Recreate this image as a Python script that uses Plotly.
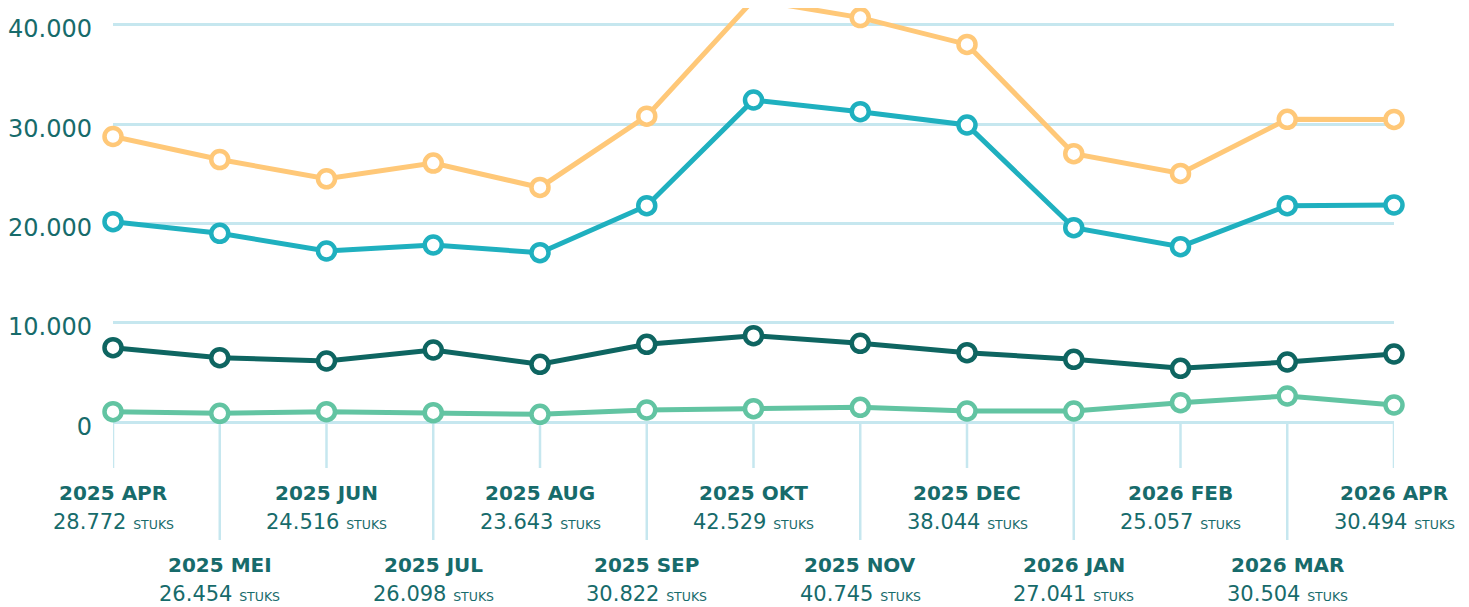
import plotly.graph_objects as go

# ---- data ----
months = ["2025 APR", "2025 MEI", "2025 JUN", "2025 JUL", "2025 AUG", "2025 SEP",
          "2025 OKT", "2025 NOV", "2025 DEC", "2026 JAN", "2026 FEB", "2026 MAR", "2026 APR"]
totaal = [28772, 26454, 24516, 26098, 23643, 30822, 42529, 40745, 38044, 27041, 25057, 30504, 30494]
serie_b = [20195, 19027, 17245, 17850, 17074, 21806, 32448, 31270, 29931, 19591, 17679, 21806, 21877]
serie_c = [7510, 6504, 6171, 7279, 5839, 7853, 8718, 7953, 7007, 6342, 5436, 6071, 6876]
serie_d = [1067, 906, 1067, 966, 805, 1238, 1369, 1510, 1138, 1138, 1973, 2648, 1742]
y_ticks = [0, 10000, 20000, 30000, 40000]
unit = "STUKS"

# ---- style ----
OFF = 8  # page body margin
W, H = 1469 - OFF, 607 - OFF
TEXT = "#176B6B"
GRID = "#C6E7EF"
FONT = "DejaVu Sans"
colors = ["#FFC878", "#1FB0BF", "#0E6561", "#62C4A2"]

# pixel layout (window coords) -> data mapping for y (plot spans full height)
Y_ZERO_PX = 422.3 - OFF
PX_PER_UNIT = 99.33 / 10000.0
y_top = Y_ZERO_PX / PX_PER_UNIT
y_bot = -(H - Y_ZERO_PX) / PX_PER_UNIT


def py(px):
    return (Y_ZERO_PX - (px - OFF)) / PX_PER_UNIT


x = list(range(len(months)))
fig = go.Figure()
for vals, col in zip([totaal, serie_b, serie_c, serie_d], colors):
    fig.add_trace(go.Scatter(
        x=x, y=vals, mode="lines+markers",
        line=dict(color=col, width=5),
        marker=dict(size=17, color="white", line=dict(color=col, width=4.5)),
        cliponaxis=False, showlegend=False, hoverinfo="skip"))

shapes = []
annotations = []
for i, (m, v) in enumerate(zip(months, totaal)):
    low = i % 2 == 1
    shapes.append(dict(type="line", xref="x", yref="y", x0=i, x1=i,
                       y0=0, y1=py(540 if low else 468),
                       line=dict(color=GRID, width=2.5), layer="below"))
    ly = 565 if low else 493
    vy = 594 if low else 522
    annotations.append(dict(x=i, y=py(ly), xref="x", yref="y", showarrow=False,
                            text=f"<b>{m}</b>", xanchor="center", yanchor="middle",
                            font=dict(family=FONT, size=20, color=TEXT)))
    num = f"{v:,}".replace(",", ".")
    annotations.append(dict(x=i, y=py(vy), xref="x", yref="y", showarrow=False,
                            text=f"{num} <span style='font-size:12.5px'>{unit}</span>",
                            xanchor="center", yanchor="middle",
                            font=dict(family=FONT, size=21, color=TEXT)))

fig.update_layout(
    width=W, height=H,
    margin=dict(l=110 - OFF, r=W - (1394 - OFF), t=0, b=0),
    paper_bgcolor="white", plot_bgcolor="white",
    separators=",.",
    font=dict(family=FONT, color=TEXT),
    xaxis=dict(range=[0, len(months) - 1], showgrid=False, zeroline=False,
               showticklabels=False, showline=False, ticks=""),
    yaxis=dict(range=[y_bot, y_top], tickvals=y_ticks, tickformat=",d",
               showgrid=True, gridcolor=GRID, gridwidth=2.5, zeroline=False,
               showline=False, ticks="", ticklabelstandoff=20, ticklabelshift=4,
               tickfont=dict(family=FONT, size=24, color=TEXT)),
    shapes=shapes, annotations=annotations,
)

fig.write_html("out.html")
